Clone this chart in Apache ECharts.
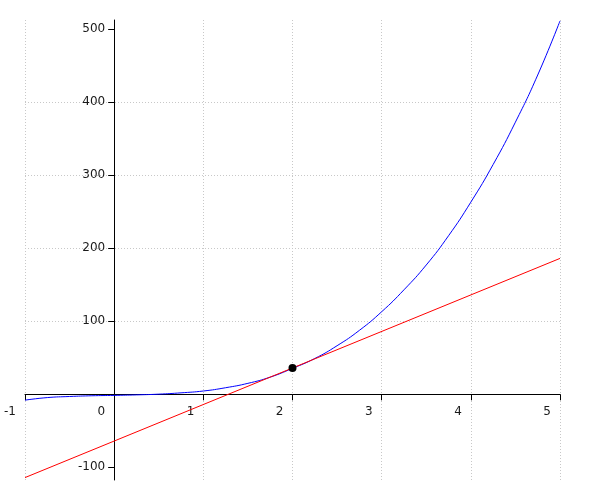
<!DOCTYPE html>
<html>
<head>
<meta charset="utf-8">
<script src="https://cdn.jsdelivr.net/npm/echarts@6/dist/echarts.min.js"></script>
<style>html,body{margin:0;padding:0;background:#fff}#c{width:600px;height:500px}</style>
</head>
<body>
<div id="c"></div>
<script>
// curve samples
const curveX = [-1, -0.75, -0.5, -0.25, 0, 0.25, 0.5, 0.75, 1, 1.25, 1.5, 1.75, 2, 2.25, 2.5, 2.75, 3, 3.25, 3.5, 3.75, 4, 4.25, 4.5, 4.75, 5];
const curveY = [-8, -4.5, -3, -2, -1.5, -0.8, 0.2, 2, 4.5, 9, 15, 23.5, 35.5, 49, 66.5, 87.5, 113, 143, 177, 217, 263, 314.5, 372.5, 437, 511];
// tangent line end points
const lineX = [-1, 5];
const lineY = [-114, 186];
// tangent point
const pointX = [2];
const pointY = [36];
// axes
const xTicks = [-1, 0, 1, 2, 3, 4, 5];
const yTicks = [-100, 0, 100, 200, 300, 400, 500];
const yLabels = [-100, 100, 200, 300, 400, 500];
const yMin = -117.3, yMax = 512.3;

const zip = (a, b) => a.map((v, i) => [v, b[i]]);
const font = 'DejaVu Sans';
const gridL = 25, gridR = 40, gridT = 20, gridB = 20;
const chart = echarts.init(document.getElementById('c'), null, {renderer: 'canvas'});
chart.setOption({
  backgroundColor: '#fff',
  animation: false,
  grid: {left: gridL, right: gridR, top: gridT, bottom: gridB, containLabel: false, outerBoundsMode: 'none'},
  xAxis: {
    type: 'value', min: -1, max: 5, interval: 1, position: 'bottom', offset: 0,
    axisLine: {onZero: false, lineStyle: {color: '#000', width: 1}},
    axisTick: {show: true, length: 6, inside: false, lineStyle: {color: '#000'}},
    axisLabel: {
      color: '#1a1a1a', fontFamily: font, fontSize: 12, margin: 12,
      align: 'right', padding: [0, 9, 0, 0],
      customValues: xTicks
    },
    splitLine: {show: true, lineStyle: {color: '#c8c8c8', type: [1, 2], width: 1}}
  },
  yAxis: {
    type: 'value', min: yMin, max: yMax, position: 'left', offset: 0,
    axisLine: {onZero: false, lineStyle: {color: '#000', width: 1}},
    axisTick: {show: true, length: 6, customValues: yTicks, lineStyle: {color: '#000'}},
    axisLabel: {
      color: '#1a1a1a', fontFamily: font, fontSize: 12, margin: 9,
      customValues: yLabels
    },
    splitLine: {show: true, showMinLine: false, showMaxLine: false,
      lineStyle: {color: '#c8c8c8', type: [1, 2], width: 1}}
  },
  series: [
    {type: 'line', data: zip(curveX, curveY), smooth: true, showSymbol: false,
      lineStyle: {color: '#0000ff', width: 1}, z: 2},
    {type: 'line', data: zip(lineX, lineY), showSymbol: false,
      lineStyle: {color: '#ff0000', width: 1}, z: 3},
    {type: 'scatter', data: zip(pointX, pointY), symbolSize: 8,
      itemStyle: {color: '#000', opacity: 1}, z: 4}
  ]
});
// move the axes onto the zero lines, using the library's own scales
const origin = chart.convertToPixel({gridIndex: 0}, [0, 0]);
chart.setOption({
  xAxis: {offset: -(500 - gridB - origin[1])},
  yAxis: {offset: -(origin[0] - gridL)}
});
</script>
</body>
</html>
